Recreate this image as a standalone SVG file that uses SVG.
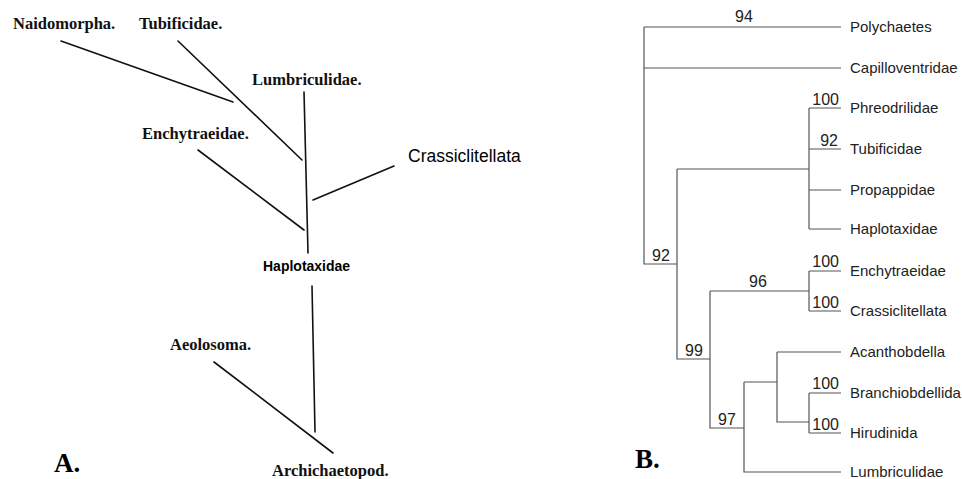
<svg xmlns="http://www.w3.org/2000/svg" width="962" height="479" viewBox="0 0 962 479">
<style>
.serif{font-family:"Liberation Serif","Times New Roman",serif;font-weight:bold;font-size:16.5px;fill:#111}
.panel{font-family:"Liberation Serif","Times New Roman",serif;font-weight:bold;font-size:27px;fill:#000}
.sans{font-family:"Liberation Sans",Arial,sans-serif;fill:#222}
.lab{font-size:15px}
.num{font-size:16px}
.la{stroke:#111;stroke-width:1.6;fill:none;stroke-linecap:round}
.lb{stroke:#555;stroke-width:1.2;fill:none}
</style>
<rect width="962" height="479" fill="#fff"/>
<g id="panelA">
<g id="connectors-A">
<line class="la" x1="61" y1="41" x2="233" y2="102"/>
<line class="la" x1="178" y1="41" x2="302" y2="160"/>
<line class="la" x1="304" y1="92" x2="308" y2="253"/>
<line class="la" x1="198" y1="150" x2="304" y2="230"/>
<line class="la" x1="313" y1="200" x2="394" y2="166"/>
<line class="la" x1="312" y1="286" x2="315" y2="432"/>
<line class="la" x1="214" y1="362" x2="333" y2="453"/>
</g>
<g id="a-naidomorpha"><text class="serif" x="13" y="29">Naidomorpha.</text></g>
<g id="a-tubificidae"><text class="serif" x="139" y="29">Tubificidae.</text></g>
<g id="a-lumbriculidae"><text class="serif" x="252" y="85">Lumbriculidae.</text></g>
<g id="a-enchytraeidae"><text class="serif" x="142" y="139">Enchytraeidae.</text></g>
<g id="a-crassiclitellata"><text class="sans" x="408" y="162" style="font-size:17.5px;fill:#000">Crassiclitellata</text></g>
<g id="a-haplotaxidae"><text class="sans" x="263" y="271" style="font-size:14px;font-weight:bold;fill:#000">Haplotaxidae</text></g>
<g id="a-aeolosoma"><text class="serif" x="170" y="350">Aeolosoma.</text></g>
<g id="a-archichaetopod"><text class="serif" x="272" y="476">Archichaetopod.</text></g>
<g id="a-label"><text class="panel" x="54" y="472">A.</text></g>
</g>
<g id="panelB">
<g id="connectors-B">
<path class="lb" d="M644,27 H841 M644,27 V264 H677 M644,68 H841"/>
<path class="lb" d="M677,169 V359 H710 M677,169 H809 M809,108 V229 M809,108 H841 M809,149 H841 M809,190 H841 M809,229 H841"/>
<path class="lb" d="M710,291 V428 H744 M710,291 H809 M809,271 V311 M809,271 H841 M809,311 H841"/>
<path class="lb" d="M744,382 V472 H841 M744,382 H777 M777,352 V422 H809 M777,352 H841 M809,393 V433 M809,393 H841 M809,433 H841"/>
</g>
<g id="b-supports" class="sans num">
<text x="744" y="22" text-anchor="middle">94</text>
<text x="839" y="105" text-anchor="end">100</text>
<text x="838" y="146" text-anchor="end">92</text>
<text x="661" y="261" text-anchor="middle">92</text>
<text x="758" y="287" text-anchor="middle">96</text>
<text x="839" y="267" text-anchor="end">100</text>
<text x="839" y="308" text-anchor="end">100</text>
<text x="694" y="356" text-anchor="middle">99</text>
<text x="727" y="425" text-anchor="middle">97</text>
<text x="839" y="389" text-anchor="end">100</text>
<text x="839" y="430" text-anchor="end">100</text>
</g>
<g id="b-polychaetes"><text class="sans lab" x="850" y="32">Polychaetes</text></g>
<g id="b-capilloventridae"><text class="sans lab" x="850" y="73">Capilloventridae</text></g>
<g id="b-phreodrilidae"><text class="sans lab" x="850" y="113">Phreodrilidae</text></g>
<g id="b-tubificidae"><text class="sans lab" x="850" y="154">Tubificidae</text></g>
<g id="b-propappidae"><text class="sans lab" x="850" y="195">Propappidae</text></g>
<g id="b-haplotaxidae"><text class="sans lab" x="850" y="234">Haplotaxidae</text></g>
<g id="b-enchytraeidae"><text class="sans lab" x="850" y="276">Enchytraeidae</text></g>
<g id="b-crassiclitellata"><text class="sans lab" x="850" y="316">Crassiclitellata</text></g>
<g id="b-acanthobdella"><text class="sans lab" x="850" y="357">Acanthobdella</text></g>
<g id="b-branchiobdellida"><text class="sans lab" x="850" y="398">Branchiobdellida</text></g>
<g id="b-hirudinida"><text class="sans lab" x="850" y="438">Hirudinida</text></g>
<g id="b-lumbriculidae"><text class="sans lab" x="850" y="477">Lumbriculidae</text></g>
<g id="b-label"><text class="panel" x="635" y="468">B.</text></g>
</g>
</svg>
